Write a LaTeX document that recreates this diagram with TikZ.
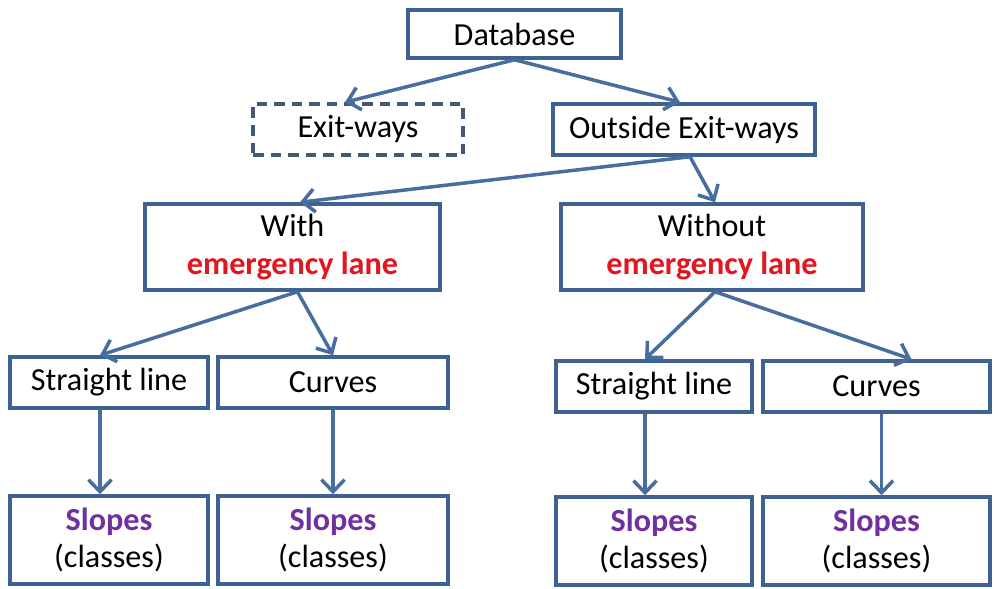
\documentclass[tikz,border=0pt]{standalone}
\usepackage{fontspec}
\setmainfont{Carlito}
\usepackage{tikz}
\usetikzlibrary{positioning, arrows.meta}
\definecolor{boxLine}{RGB}{62, 99, 146}
\definecolor{edgeLine}{RGB}{72, 110, 160}
\definecolor{dashLine}{RGB}{66, 88, 116}
\definecolor{laneRed}{RGB}{226, 22, 30}
\definecolor{slopePurple}{RGB}{112, 48, 160}
\tikzset{
    tree_box/.style={
        draw=boxLine,
        line width=2pt,
        fill=white,
        text=black,
        align=center,
        inner sep=0pt,
        font=\fontsize{18.3}{21.5}\selectfont
    },
    dash_box/.style={
        tree_box,
        draw=dashLine,
        dash pattern=on 6pt off 4pt
    },
    tree_edge/.style={
        draw=edgeLine,
        line width=2pt,
        -{Straight Barb[length=2.4mm, width=4.6mm, line width=2pt]}
    }
}
\newcommand{\lane}{\textcolor{laneRed}{\bfseries emergency lane}}
\newcommand{\slopes}{\textcolor{slopePurple}{\bfseries Slopes}\\(classes)}

\begin{document}
\begin{tikzpicture}
    \useasboundingbox (0,0) rectangle (20,11.78);

    \node[tree_box, minimum width=4.26cm, minimum height=0.96cm] (db) at (10.29,11.1) {Database};
    \node[dash_box, minimum width=4.2cm, minimum height=1.02cm] (exit) at (7.16,9.19) {Exit-ways};
    \node[tree_box, minimum width=5.24cm, minimum height=1.02cm] (outside) at (13.68,9.19) {Outside Exit-ways};

    \node[tree_box, minimum width=5.9cm, minimum height=1.72cm] (with) at (5.85,6.84) {With\\\lane};
    \node[tree_box, minimum width=6.04cm, minimum height=1.72cm] (without) at (14.24,6.84) {Without\\\lane};

    \node[tree_box, minimum width=3.96cm, minimum height=1.02cm] (line1) at (2.18,4.13) {Straight line};
    \node[tree_box, minimum width=4.6cm, minimum height=1.02cm] (curve1) at (6.66,4.13) {Curves};
    \node[tree_box, minimum width=3.92cm, minimum height=1.02cm] (line2) at (13.08,4.05) {Straight line};
    \node[tree_box, minimum width=4.54cm, minimum height=1.02cm] (curve2) at (17.53,4.05) {Curves};

    \node[tree_box, minimum width=3.96cm, minimum height=1.76cm] (slope1) at (2.18,0.98) {\slopes};
    \node[tree_box, minimum width=4.6cm, minimum height=1.76cm] (slope2) at (6.66,0.98) {\slopes};
    \node[tree_box, minimum width=3.92cm, minimum height=1.76cm] (slope3) at (13.08,0.96) {\slopes};
    \node[tree_box, minimum width=4.54cm, minimum height=1.76cm] (slope4) at (17.53,0.96) {\slopes};

    \draw[tree_edge] (db.south) -- ([xshift=-0.26cm]exit.north);
    \draw[tree_edge] (db.south) -- ([xshift=-0.08cm]outside.north);
    \draw[tree_edge] ([xshift=0.12cm]outside.south) -- ([xshift=0.15cm]with.north);
    \draw[tree_edge] ([xshift=0.12cm]outside.south) -- ([xshift=0.06cm]without.north);
    \draw[tree_edge] ([xshift=0.1cm]with.south) -- ([xshift=-0.18cm]line1.north);
    \draw[tree_edge] ([xshift=0.1cm]with.south) -- (curve1.north);
    \draw[tree_edge] ([xshift=0.06cm]without.south) -- ([xshift=-0.18cm]line2.north);
    \draw[tree_edge] ([xshift=0.06cm]without.south) -- ([xshift=0.7cm]curve2.north);

    \draw[tree_edge] ([xshift=-0.18cm]line1.south) -- ([xshift=-0.18cm]slope1.north);
    \draw[tree_edge] (curve1.south) -- (slope2.north);
    \draw[tree_edge] ([xshift=-0.18cm]line2.south) -- ([xshift=-0.18cm]slope3.north);
    \draw[tree_edge] ([xshift=0.1cm]curve2.south) -- ([xshift=0.1cm]slope4.north);
\end{tikzpicture}
\end{document}
